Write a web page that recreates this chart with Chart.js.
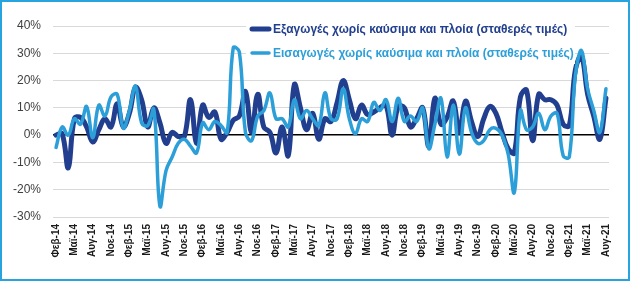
<!DOCTYPE html>
<html>
<head>
<meta charset="utf-8">
<style>
  html, body { margin: 0; padding: 0; background: #fff; }
  #wrap { position: relative; width: 632px; height: 284px; }
  #wrap canvas { position: absolute; left: 0; top: 0; }
  #frame { position: absolute; left: 0; top: 0; width: 630px; height: 281px;
           box-sizing: border-box; border: 2px solid #27a4df; pointer-events: none; }
</style>
<script src="https://cdn.jsdelivr.net/npm/chart.js@4.4.1/dist/chart.umd.min.js"></script>
</head>
<body>
<div id="wrap">
  <canvas id="chart" width="632" height="284"></canvas>
  <div id="frame"></div>
</div>
<script>
// ── data (yoy % change, monthly, Feb-14 .. Aug-21) ─────────────────
const MONTHS = ["Ιαν","Φεβ","Μαρ","Απρ","Μαϊ","Ιουν","Ιουλ","Αυγ","Σεπ","Οκτ","Νοε","Δεκ"];
const FIRST_YEAR = 14, FIRST_MONTH = 1, N_POINTS = 91;

const EXPORTS = [
  0, 0.5, -12, 6, 6.5, 3, -2.5, 2, 6, 3,
  11.5, 3, 8, 17.5, 13, 3, 10, 4.5, -3, 1,
  -0.5, -0.5, 13, -3, 11, 6.5, 8.5, -1.5, 1, 5.5,
  7, 16, 1, 15, 3, 1, -6.5, 3, -7.5, 18.5,
  10, 2, 8, -1.5, 6, 5, 12, 20, 13, 6,
  11, 7.5, 8.5, 10, 11, 0, 10.5, 10, 3, 6,
  10, -4, 13.5, 4, 6.5, 12.5, 1, 12.5, 5, -0.5,
  6, 10.5, 8, 1, -5, -6.5, 14, 16.5, -2, 15,
  13, 13, 11, 4, 3.5, 24, 29, 15, 7, -1.5,
  13.5
];

const IMPORTS = [
  -4.5, 3, 0, 6, 4, 10.5, -1, 11, 7, 14,
  15, 2.5, 9, 18, 4.5, 3.5, 9.5, -26, -13, -8,
  -3, -1.5, -4, -6.5, 4.5, 2, 5, 3.5, 1, 32,
  30.5, 1, -2, 7, 9, 15.5, 6, 6, 3, 13,
  6, 9, 6, 3.5, 15.5, 6, 6, 17, 6, 0.5,
  6, 5, 12, 9, 13, 5, 13.5, 5, 7, 5,
  10, -5, 4, 13.5, -8, 11, -7, 10, 1, -3,
  -2, 2, 2.5, 0, -7, -21, 9, 2, 3, 8,
  2, 7, 8, -7.5, -8, 22, 31, 17, 9, 1,
  17
];

const SERIES_NAMES = [
  "Εξαγωγές χωρίς καύσιμα και πλοία (σταθερές τιμές)",
  "Εισαγωγές χωρίς καύσιμα και πλοία (σταθερές τιμές)"
];

const Y_MIN = -30, Y_MAX = 40, Y_STEP = 10;

const DARK  = "#213f8e";
const LIGHT = "#2c9fd9";
const FONT  = "'Liberation Sans', Arial, sans-serif";

const labels = [];
for (let k = 0; k < N_POINTS; k++) {
  const m = (FIRST_MONTH + k) % 12;
  const y = FIRST_YEAR + Math.floor((FIRST_MONTH + k) / 12);
  labels.push(MONTHS[m] + "-" + y);
}

// legend drawn inside the plot, on a white box, like the source
const boxLegend = {
  id: "boxLegend",
  afterDatasetsDraw(chart) {
    const ctx = chart.ctx;
    ctx.save();
    ctx.fillStyle = "#fff";
    ctx.fillRect(246, 16, 329, 48);
    const rows = [29, 53];
    const widths = [5, 3.5];
    chart.data.datasets.forEach((ds, i) => {
      const y = rows[i];
      ctx.strokeStyle = ds.borderColor;
      ctx.lineWidth = widths[i];
      ctx.lineCap = "round";
      ctx.beginPath();
      ctx.moveTo(252, y);
      ctx.lineTo(269, y);
      ctx.stroke();
      ctx.fillStyle = ds.borderColor;
      ctx.font = "bold 12px " + FONT;
      ctx.textBaseline = "middle";
      ctx.textAlign = "left";
      ctx.fillText(ds.label, 273, y + 1);
    });
    ctx.restore();
  }
};

new Chart(document.getElementById("chart"), {
  type: "line",
  data: {
    labels: labels,
    datasets: [{
      label: SERIES_NAMES[0],
      data: EXPORTS,
      borderColor: DARK,
      borderWidth: 5,
      pointRadius: 0,
      tension: 0.4,
      borderCapStyle: "round",
      borderJoinStyle: "round",
      order: 2,
    }, {
      label: SERIES_NAMES[1],
      data: IMPORTS,
      borderColor: LIGHT,
      borderWidth: 3.5,
      pointRadius: 0,
      tension: 0.4,
      borderCapStyle: "round",
      borderJoinStyle: "round",
      order: 1,
    }],
  },
  options: {
    responsive: false,
    animation: false,
    layout: { padding: { left: 0, right: 23, top: 26, bottom: 0 } },
    plugins: { legend: { display: false }, tooltip: { enabled: false } },
    scales: {
      x: {
        offset: true,
        grid: { display: false, drawTicks: false },
        border: { display: false },
        ticks: {
          autoSkip: false, maxRotation: 90, minRotation: 90, padding: 7,
          color: "#1a1a1a", font: { family: FONT, size: 10, weight: "bold" },
          callback: function (v, i) { return i % 3 === 0 ? this.getLabelForValue(v) : ""; },
        },
        afterFit: s => { s.height = 67; },
      },
      y: {
        min: Y_MIN, max: Y_MAX,
        border: { display: false },
        grid: {
          drawTicks: false,
          color: c => c.tick.value === 0 ? "#000" : "#d9d9d9",
          lineWidth: c => c.tick.value === 0 ? 1.5 : 1,
        },
        ticks: {
          stepSize: Y_STEP, padding: 12, color: "#404040",
          font: { family: FONT, size: 12 },
          callback: v => v + "%",
        },
        afterFit: s => { s.width = 53; },
      },
    },
  },
  plugins: [boxLegend],
});
</script>
</body>
</html>
